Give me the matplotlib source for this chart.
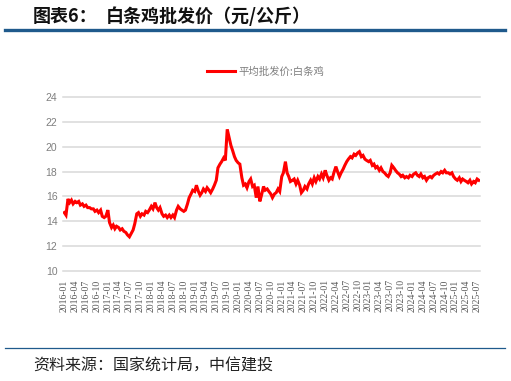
import matplotlib

matplotlib.use("Agg")
import matplotlib.pyplot as plt
import matplotlib.dates as mdates
import pandas as pd

plt.rcParams["font.family"] = ["Noto Sans CJK SC", "DejaVu Sans"]

TITLE_NO = "图表6："
TITLE = "白条鸡批发价（元/公斤）"
SERIES = "平均批发价:白条鸡"
SOURCE = "资料来源：国家统计局，中信建投"

# semimonthly readings (1st and 15th of each month), 2016-01 .. 2025-07
PRICE = [
    # 2016
    14.7, 14.5, 15.8, 15.5, 15.7, 15.4, 15.6, 15.5, 15.6, 15.3, 15.4, 15.2,
    15.3, 15.1, 15.1, 15.0, 15.0, 14.8, 14.9, 14.7, 14.9, 14.4, 14.3, 14.4,
    # 2017
    14.9, 13.9, 13.5, 13.7, 13.4, 13.6, 13.5, 13.3, 13.4, 13.2, 13.1, 12.9,
    12.75, 13.0, 13.3, 13.8, 14.6, 14.7, 14.4, 14.6, 14.5, 14.8, 14.7, 14.9,
    # 2018
    15.2, 15.0, 15.5, 15.1, 14.9, 15.1, 14.6, 14.4, 14.5, 14.3, 14.5, 14.3,
    14.5, 14.3, 14.9, 15.2, 15.0, 14.9, 14.8, 14.9, 15.4, 15.9, 16.2, 16.5,
    # 2019
    16.4, 16.9, 16.4, 16.1, 16.3, 16.6, 16.4, 16.7, 16.5, 16.3, 16.6, 16.9,
    17.3, 18.3, 18.6, 18.8, 19.1, 18.9, 21.4, 20.8, 20.1, 19.7, 19.2, 18.9,
    # 2020
    18.7, 18.6, 17.5, 16.9, 17.0, 16.7, 17.2, 17.4, 16.8, 16.9, 15.9, 16.8,
    15.6, 16.1, 16.8, 16.5, 16.6, 16.4, 16.2, 15.9, 16.2, 16.3, 16.6, 16.4,
    # 2021
    17.6, 17.9, 18.8, 17.9, 17.6, 17.2, 17.3, 17.4, 17.0, 17.3, 16.9, 16.3,
    16.5, 16.8, 16.6, 17.0, 17.3, 17.0, 17.5, 17.2, 17.6, 17.4, 17.8, 17.5,
    # 2022
    18.1, 17.7, 17.3, 17.5, 17.4, 17.9, 18.4, 18.0, 17.6, 17.9, 18.2, 18.5,
    18.8, 19.0, 19.2, 19.1, 19.4, 19.3, 19.5, 19.6, 19.2, 19.3, 19.0, 18.9,
    # 2023
    18.8, 18.9, 18.5, 18.6, 18.3, 18.4, 18.1, 18.3, 18.0, 17.9, 17.7, 17.6,
    17.9, 18.5, 18.3, 18.1, 17.9, 17.8, 17.6, 17.7, 17.5, 17.6, 17.5, 17.7,
    # 2024
    17.6, 17.8, 17.9, 17.7, 17.6, 17.8, 17.5, 17.6, 17.3, 17.5, 17.6, 17.5,
    17.7, 17.8, 17.9, 17.8, 18.0, 17.9, 18.1, 17.9, 17.9, 17.8, 17.9, 17.6,
    # 2025
    17.4, 17.3, 17.5, 17.2, 17.4, 17.3, 17.2, 17.1, 17.3, 17.0, 17.2, 17.1,
    17.4, 17.3,
]
YTICKS = [10, 12, 14, 16, 18, 20, 22, 24]

RED, GRID, TICK = "#FF0000", "#D9D9D9", "#7F7F7F"
BLUE = "#1F5A8C"


def main() -> None:
    dates = pd.date_range("2016-01-01", periods=len(PRICE), freq="SMS")
    fig = plt.figure(figsize=(5.11, 3.81), dpi=100)
    ax = fig.add_axes([63 / 511, 1 - 271 / 381, 417 / 511, 174 / 381])

    for y in YTICKS:
        ax.axhline(y, color=GRID, lw=1.1, clip_on=False, zorder=0)
    line, = ax.plot(dates, PRICE, color=RED, lw=2.2, solid_joinstyle="miter")

    ax.set_ylim(10, 24)
    ax.set_yticks(YTICKS)
    ax.set_xlim(pd.Timestamp("2015-12-21"), pd.Timestamp("2025-07-25"))
    qt = pd.date_range("2016-01-01", "2025-07-01", freq="QS")
    ax.set_xticks(qt)
    ax.xaxis.set_major_formatter(mdates.DateFormatter("%Y-%m"))
    for lab in ax.get_xticklabels():
        lab.set_rotation(90)
        lab.set_fontfamily("Liberation Serif")
        lab.set_fontsize(7.0)
        lab.set_color("#595959")
    for lab in ax.get_yticklabels():
        lab.set_fontfamily("Liberation Sans")
        lab.set_fontsize(7.5)
        lab.set_color(TICK)
    ax.tick_params(length=0, pad=4)
    ax.tick_params(axis="x", pad=6)
    for s in ax.spines.values():
        s.set_visible(False)

    fig.legend([line], [SERIES], loc="center", bbox_to_anchor=(266 / 511, 1 - 72 / 381),
               frameon=False, fontsize=7.5, labelcolor=TICK, handlelength=2.6,
               handletextpad=0.4)

    fig.text(33 / 511, 1 - 16 / 381, TITLE_NO, fontsize=13, fontweight="bold",
             va="center", ha="left", color="#111111")
    fig.text(106 / 511, 1 - 16 / 381, TITLE, fontsize=13, fontweight="bold",
             va="center", ha="left", color="#111111")
    fig.add_artist(plt.Line2D([5 / 511, 505 / 511], [1 - 29.5 / 381] * 2,
                              color=BLUE, lw=2.4, transform=fig.transFigure))
    fig.add_artist(plt.Line2D([5 / 511, 505 / 511], [1 - 348 / 381] * 2,
                              color=BLUE, lw=0.9, transform=fig.transFigure))
    fig.text(33 / 511, 1 - 366 / 381, SOURCE, fontsize=11.5, va="center",
             ha="left", color="#222222")

    fig.savefig("out.png", dpi=100)


if __name__ == "__main__":
    main()
